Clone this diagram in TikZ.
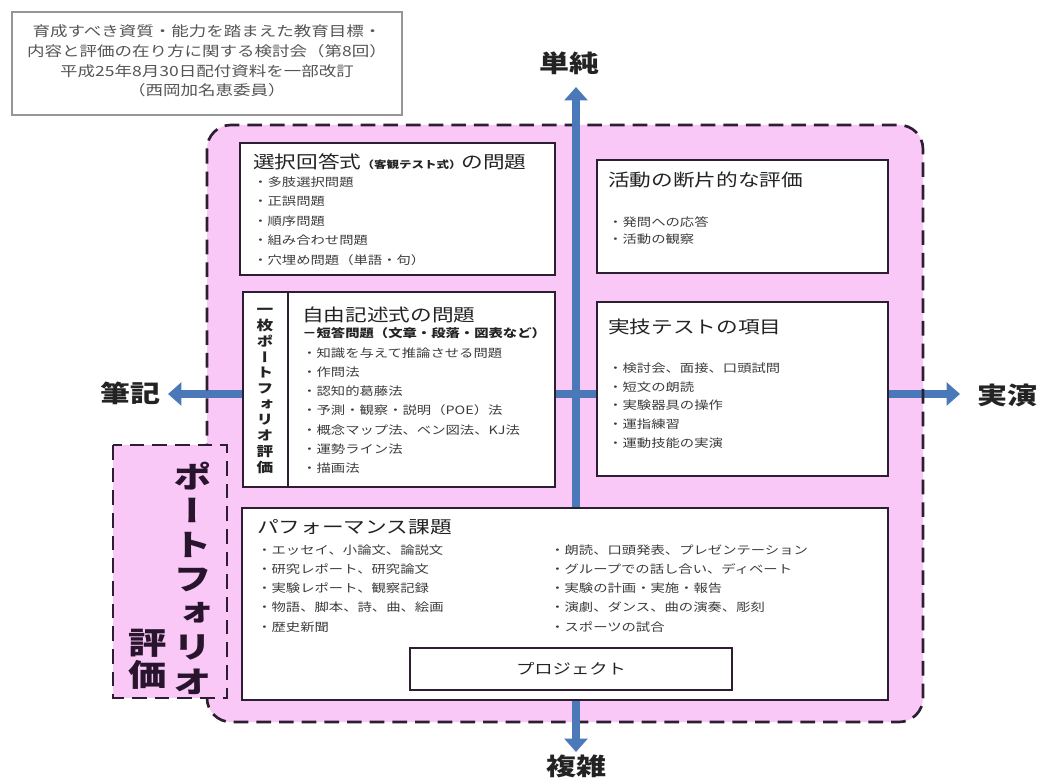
\documentclass[tikz,border=0pt]{standalone}
\usepackage{fontspec}
\usetikzlibrary{arrows.meta}
\newfontfamily\jp[FakeStretch=1.25]{Noto Sans CJK JP}
\newfontfamily\jpv[FakeStretch=1.25,RawFeature=+vert]{Noto Sans CJK JP}
\definecolor{pinkbg}{RGB}{249,200,247}
\definecolor{boxline}{RGB}{45,30,50}
\definecolor{arrowblue}{RGB}{74,120,184}
\definecolor{txt}{RGB}{35,35,35}
\definecolor{itemtxt}{RGB}{60,60,60}
\definecolor{hdrtxt}{RGB}{85,85,85}
\definecolor{hdrline}{RGB}{150,150,150}
\definecolor{pftxt}{RGB}{40,20,45}
\tikzset{
  item/.style={anchor=west, inner sep=0pt, text=itemtxt, font=\jp\fontsize{8.6}{10}\selectfont},
  bitem/.style={item, text=txt, font=\jp\bfseries\fontsize{8.6}{10}\selectfont},
  head/.style={anchor=west, inner sep=0pt, text=txt, font=\jp\fontsize{13}{15}\selectfont},
  wbox/.style={draw=boxline, line width=1.9pt, fill=white},
  region/.style={draw=boxline, line width=2pt, dash pattern=on 11pt off 6pt},
  axisarrow/.style={draw=arrowblue, line width=6.5pt, {Triangle[width=17pt,length=10pt]}-{Triangle[width=17pt,length=10pt]}},
  axislabel/.style={inner sep=0pt, text=txt, font=\jp\bfseries\fontsize{18}{20}\selectfont}
}
\begin{document}
\begin{tikzpicture}[x=0.75pt,y=-0.75pt]
\useasboundingbox (0,0) rectangle (1040,780);

% header box
\draw[draw=hdrline, line width=1.5pt, fill=white] (12,12) rectangle (402,115);
\node[align=center, inner sep=0pt, text=hdrtxt, font=\jp\fontsize{10.5}{14.8}\selectfont] (hdr) at (207,61)
  {育成すべき資質・能力を踏まえた教育目標・\\内容と評価の在り方に関する検討会（第8回）\\平成25年8月30日配付資料を一部改訂\\（西岡加名恵委員）};

% big region fill
\fill[pinkbg, rounded corners=18pt] (207,125) rectangle (923,722);

% axis coordinates
\coordinate (L) at (168,394);
\coordinate (R) at (960,394);
\coordinate (T) at (576,87);
\coordinate (B) at (576,752);

\draw[axisarrow] (L) -- (R);
\draw[region, rounded corners=18pt] (207,125) rectangle (923,722);
\draw[axisarrow] (T) -- (B);

% portfolio box
\draw[region, fill=pinkbg] (113,445) rectangle (227,698);
\node[align=center, inner sep=0pt, text=pftxt, font=\jpv\bfseries\fontsize{23}{25.6}\selectfont] (pf) at (193,578)
  {ポ\\ー\\ト\\フ\\ォ\\リ\\オ};
\node[align=center, inner sep=0pt, text=pftxt, font=\jp\bfseries\fontsize{23}{24}\selectfont] (pfh) at (148,659)
  {評\\価};

% axis labels
\node[axislabel] (lt) at (569,63) {単純};
\node[axislabel] (lb) at (576,766) {複雑};
\node[axislabel] (ll) at (130,393) {筆記};
\node[axislabel] (lr) at (1007,395) {実演};

% box 1
\draw[wbox] (240,143) rectangle (555,275);
\node[head] (h1) at (253,162) {選択回答式{\fontsize{7.5}{9}\selectfont\bfseries （客観テスト式）}の問題};
\foreach \t [count=\i from 0] in {・多肢選択問題,・正誤問題,・順序問題,・組み合わせ問題,・穴埋め問題（単語・句）}
  \node[item] (b1i\i) at (253,182+19.5*\i) {\t};

% box 2
\draw[wbox] (597,160) rectangle (888,273);
\node[head] (h2) at (608,180) {活動の断片的な評価};
\foreach \t [count=\i from 0] in {・発問への応答,・活動の観察}
  \node[item] (b2i\i) at (608,222+17*\i) {\t};

% box 3
\draw[wbox] (243,292) rectangle (555,487);
\draw[wbox] (243,292) rectangle (288,487);
\node[align=center, inner sep=0pt, text=txt, font=\jpv\bfseries\fontsize{10}{11.8}\selectfont] (v1) at (265,391)
  {一\\枚\\ポ\\ー\\ト\\フ\\ォ\\リ\\オ\\評\\価};
\node[head] (h3) at (302,315) {自由記述式の問題};
\node[bitem] (b3s) at (302,333) {－短答問題（文章・段落・図表など）};
\foreach \t [count=\i from 0] in {・知識を与えて推論させる問題,・作問法,・認知的葛藤法,・予測・観察・説明（POE）法,・概念マップ法、ベン図法、KJ法,・運勢ライン法,・描画法}
  \node[item] (b3i\i) at (302,353+19.2*\i) {\t};

% box 4
\draw[wbox] (597,302) rectangle (888,476);
\node[head] (h4) at (608,327) {実技テストの項目};
\foreach \t [count=\i from 0] in {・検討会、面接、口頭試問,・短文の朗読,・実験器具の操作,・運指練習,・運動技能の実演}
  \node[item] (b4i\i) at (608,368+18.7*\i) {\t};

% box 5
\draw[wbox] (242,508) rectangle (888,700);
\node[head] (h5) at (257,527) {パフォーマンス課題};
\foreach \t [count=\i from 0] in {・エッセイ、小論文、論説文,・研究レポート、研究論文,・実験レポート、観察記録,・物語、脚本、詩、曲、絵画,・歴史新聞}
  \node[item] (b5l\i) at (257,550+19.2*\i) {\t};
\foreach \t [count=\i from 0] in {・朗読、口頭発表、プレゼンテーション,・グループでの話し合い、ディベート,・実験の計画・実施・報告,・演劇、ダンス、曲の演奏、彫刻,・スポーツの試合}
  \node[item] (b5r\i) at (550,550+19.2*\i) {\t};
\draw[wbox] (410,648) rectangle (732,690);
\node[inner sep=0pt, text=txt, font=\jp\fontsize{11}{13}\selectfont] (proj) at (571,669) {プロジェクト};
\end{tikzpicture}
\end{document}
